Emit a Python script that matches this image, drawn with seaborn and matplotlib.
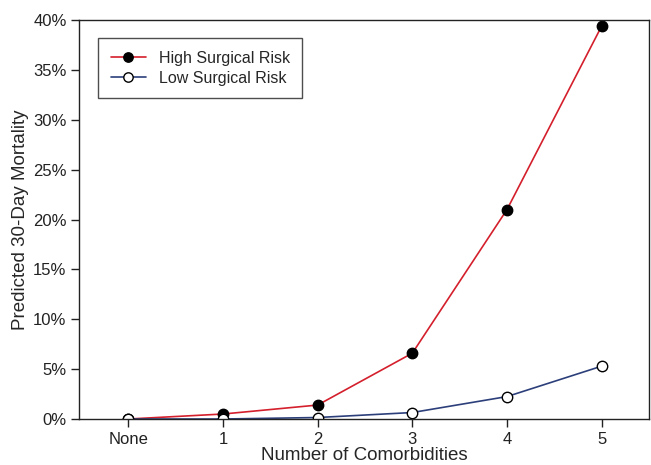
import matplotlib
matplotlib.use("Agg")
import matplotlib.pyplot as plt
import matplotlib.ticker as mticker
import seaborn as sns
import pandas as pd

categories = ["None", "1", "2", "3", "4", "5"]
high_risk = [0.0, 0.5, 1.4, 6.6, 21.0, 39.4]
low_risk = [0.0, 0.0, 0.15, 0.65, 2.25, 5.3]

sns.set_style("ticks")
plt.rcParams["font.family"] = ["Liberation Sans", "DejaVu Sans"]

df = pd.DataFrame({
    "pos": list(range(len(categories))),
    "high": high_risk,
    "low": low_risk,
})

fig = plt.figure(figsize=(6.51, 4.65), dpi=100)
ax = fig.add_axes([0.1214, 0.0989, 0.8756, 0.8581])

red = "#d41f2c"
blue = "#2c3f7a"

sns.lineplot(data=df, x="pos", y="high", ax=ax, color=red, lw=1.2,
             marker="o", markersize=7.5, markerfacecolor="black",
             markeredgecolor="black", markeredgewidth=1.0,
             label="High Surgical Risk")
sns.lineplot(data=df, x="pos", y="low", ax=ax, color=blue, lw=1.2,
             marker="o", markersize=7.5, markerfacecolor="white",
             markeredgecolor="black", markeredgewidth=1.0,
             label="Low Surgical Risk")

ax.set_xlim(-0.52, 5.5)
ax.set_ylim(0, 40)
ax.set_xticks(range(len(categories)))
ax.set_xticklabels(categories)
ax.set_yticks(range(0, 41, 5))
ax.yaxis.set_major_formatter(mticker.FuncFormatter(lambda v, p: f"{int(v)}%"))
ax.tick_params(direction="out", length=6, width=1.0, labelsize=12,
               colors="#222222", pad=3)
for s in ax.spines.values():
    s.set_visible(True)
    s.set_linewidth(1.0)
    s.set_color("#222222")

ax.set_xlabel("Number of Comorbidities", fontsize=13.5, labelpad=0)
ax.set_ylabel("Predicted 30-Day Mortality", fontsize=13.5, labelpad=3)

leg = ax.legend(loc="upper left", bbox_to_anchor=(0.033, 0.955), fontsize=11.5,
                frameon=True, fancybox=False, edgecolor="#222222",
                handlelength=2.2, borderpad=0.8, labelspacing=0.3,
                borderaxespad=0, markerscale=0.9)
leg.get_frame().set_linewidth(1.0)

fig.savefig("out.png", dpi=100)
